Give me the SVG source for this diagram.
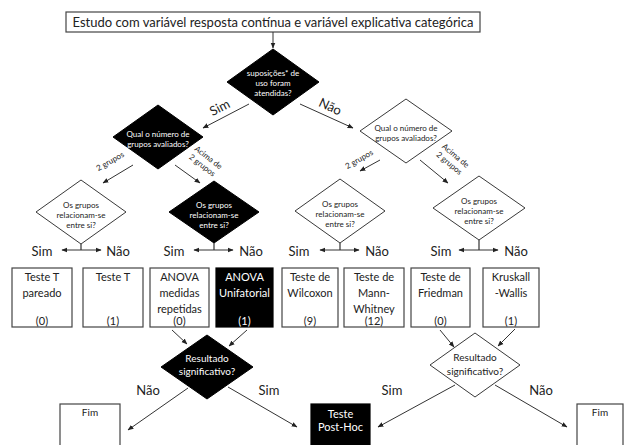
<svg xmlns="http://www.w3.org/2000/svg" width="626" height="445" viewBox="0 0 626 445">
<defs>
<marker id="ah" viewBox="0 0 10 10" refX="9" refY="5" markerWidth="6" markerHeight="6" orient="auto-start-reverse" markerUnits="userSpaceOnUse"><path d="M0,1 L10,5 L0,9 z" fill="#222"/></marker>
<style>
text{font-family:Lato,"Liberation Sans",sans-serif;fill:#222;text-anchor:middle}
.w{fill:#fff}
.dk{fill:#000;stroke:#000;stroke-width:1}
.dw{fill:#fff;stroke:#222;stroke-width:0.9}
.bx{fill:#fff;stroke:#444;stroke-width:1.2}
.bb{fill:#000;stroke:#000;stroke-width:1.2}
.ln{stroke:#333;stroke-width:1;fill:none;marker-end:url(#ah)}
.ln2{stroke:#333;stroke-width:1;fill:none;marker-end:url(#ah);marker-start:url(#ah)}
.st{stroke:#333;stroke-width:1.2;fill:none}
.dt{font-size:8px}
.lb{font-size:13px}
.bt{font-size:11px}
.rt{font-size:10px}
.gt{font-size:8px}
</style>
</defs>

<g id="title">
<rect x="66" y="12" width="414" height="20" class="bx"/>
<text x="273" y="26.5" font-size="13">Estudo com variável resposta contínua e variável explicativa categórica</text>
</g>

<g id="d1">
<polygon points="273,49 319,82 273,115 227,82" class="dk"/>
<text class="dt w" x="273" y="76">suposições* de</text>
<text class="dt w" x="273" y="86">uso foram</text>
<text class="dt w" x="273" y="96">atendidas?</text>
</g>

<g id="d2">
<polygon points="158,105 203,137 158,169 113,137" class="dk"/>
<text class="dt w" x="158" y="137">Qual o número de</text>
<text class="dt w" x="158" y="147">grupos avaliados?</text>
</g>

<g id="d3">
<polygon points="406,99 452,131 406,163 360,131" class="dw"/>
<text class="dt" x="406" y="131">Qual o número de</text>
<text class="dt" x="406" y="141">grupos avaliados?</text>
</g>

<g id="d4">
<polygon points="81,180 126,212 81,244 36,212" class="dw"/>
<text class="dt" x="81" y="208">Os grupos</text>
<text class="dt" x="81" y="218">relacionam-se</text>
<text class="dt" x="81" y="228">entre si?</text>
</g>

<g id="d5">
<polygon points="214,181 259,212 214,243 169,212" class="dk"/>
<text class="dt w" x="214" y="208">Os grupos</text>
<text class="dt w" x="214" y="218">relacionam-se</text>
<text class="dt w" x="214" y="228">entre si?</text>
</g>

<g id="d6">
<polygon points="340,179 385,211 340,243 295,211" class="dw"/>
<text class="dt" x="340" y="207">Os grupos</text>
<text class="dt" x="340" y="217">relacionam-se</text>
<text class="dt" x="340" y="227">entre si?</text>
</g>

<g id="d7">
<polygon points="479,176 525,208 479,240 433,208" class="dw"/>
<text class="dt" x="479" y="204">Os grupos</text>
<text class="dt" x="479" y="214">relacionam-se</text>
<text class="dt" x="479" y="224">entre si?</text>
</g>

<g id="b1"><rect x="12" y="268" width="60" height="59" class="bx"/>
<text class="bt" x="42" y="280.5">Teste T</text><text class="bt" x="42" y="297">pareado</text><text class="bt" x="42" y="325">(0)</text></g>
<g id="b2"><rect x="83" y="268" width="60" height="59" class="bx"/>
<text class="bt" x="113" y="280.5">Teste T</text><text class="bt" x="113" y="325">(1)</text></g>
<g id="b3"><rect x="150" y="268" width="59" height="59" class="bx"/>
<text class="bt" x="179.5" y="280.5">ANOVA</text><text class="bt" x="179.5" y="297">medidas</text><text class="bt" x="179.5" y="313">repetidas</text><text class="bt" x="179.5" y="325">(0)</text></g>
<g id="b4"><rect x="216" y="268" width="57" height="59" class="bb"/>
<text class="bt w" x="244.5" y="280.5">ANOVA</text><text class="bt w" x="244.5" y="297">Unifatorial</text><text class="bt w" x="244.5" y="325">(1)</text></g>
<g id="b5"><rect x="282" y="268" width="56" height="59" class="bx"/>
<text class="bt" x="310" y="280.5">Teste de</text><text class="bt" x="310" y="297">Wilcoxon</text><text class="bt" x="310" y="325">(9)</text></g>
<g id="b6"><rect x="344" y="268" width="60" height="59" class="bx"/>
<text class="bt" x="374" y="280.5">Teste de</text><text class="bt" x="374" y="297">Mann-</text><text class="bt" x="374" y="313">Whitney</text><text class="bt" x="374" y="325">(12)</text></g>
<g id="b7"><rect x="411" y="268" width="59" height="59" class="bx"/>
<text class="bt" x="440.5" y="280.5">Teste de</text><text class="bt" x="440.5" y="297">Friedman</text><text class="bt" x="440.5" y="325">(0)</text></g>
<g id="b8"><rect x="483" y="268" width="56" height="59" class="bx"/>
<text class="bt" x="511" y="280.5">Kruskall</text><text class="bt" x="511" y="297">-Wallis</text><text class="bt" x="511" y="325">(1)</text></g>

<g id="d8">
<polygon points="207,335 253,367 207,399 161,367" class="dk"/>
<text class="rt w" x="207" y="362">Resultado</text>
<text class="rt w" x="207" y="375">significativo?</text>
</g>

<g id="d9">
<polygon points="475,333 520,365 475,397 430,365" class="dw"/>
<text class="rt" x="475" y="361">Resultado</text>
<text class="rt" x="475" y="375">significativo?</text>
</g>

<g id="fim1"><rect x="60" y="404" width="60" height="50" class="bx"/>
<text class="rt" x="90" y="416">Fim</text></g>
<g id="posthoc"><rect x="311" y="404" width="59" height="50" class="bb"/>
<text class="bt w" x="340.5" y="418">Teste</text><text class="bt w" x="340.5" y="431">Post-Hoc</text></g>
<g id="fim2"><rect x="577" y="404" width="46" height="50" class="bx"/>
<text class="rt" x="600" y="416">Fim</text></g>

<g id="connectors">
<line x1="273" y1="32" x2="273" y2="48" class="ln"/>
<line x1="249" y1="104" x2="203" y2="128" class="ln"/>
<line x1="300" y1="104" x2="353" y2="128" class="ln"/>
<line x1="133" y1="165" x2="103" y2="183" class="ln"/>
<line x1="175" y1="165" x2="200" y2="183" class="ln"/>
<line x1="380" y1="160" x2="360" y2="171" class="ln"/>
<line x1="420" y1="160" x2="448" y2="183" class="ln"/>
<path d="M81,244 V250 M214,243 V250 M340,243 V250 M479,240 V250" class="st"/>
<line x1="62" y1="250" x2="101" y2="250" class="ln2"/>
<line x1="194" y1="250" x2="233" y2="250" class="ln2"/>
<line x1="320" y1="250" x2="359" y2="250" class="ln2"/>
<line x1="459" y1="250" x2="498" y2="250" class="ln2"/>
<line x1="172" y1="330" x2="187" y2="344" class="ln"/>
<line x1="247" y1="330" x2="229" y2="346" class="ln"/>
<line x1="440" y1="330" x2="454" y2="347" class="ln"/>
<line x1="515" y1="329" x2="498" y2="346" class="ln"/>
<line x1="188" y1="388" x2="128" y2="430" class="ln"/>
<line x1="228" y1="387" x2="297" y2="427" class="ln"/>
<line x1="455" y1="385" x2="378" y2="427" class="ln"/>
<line x1="495" y1="385" x2="567" y2="427" class="ln"/>
</g>

<g id="labels">
<text class="lb" x="220" y="112" transform="rotate(-27 220 108)">Sim</text>
<text class="lb" x="330" y="111" transform="rotate(25 330 107)">Não</text>
<text class="gt" x="110" y="164" transform="rotate(-30 110 161)">2 grupos</text>
<g transform="translate(205,162) rotate(38)"><text class="gt" x="0" y="-3">Acima de</text><text class="gt" x="0" y="7">2 grupos</text></g>
<text class="gt" x="359" y="162" transform="rotate(-30 359 159)">2 grupos</text>
<g transform="translate(452,160) rotate(40)"><text class="gt" x="0" y="-3">Acima de</text><text class="gt" x="0" y="7">2 grupos</text></g>
<text class="lb" x="42" y="256">Sim</text><text class="lb" x="118" y="256">Não</text>
<text class="lb" x="174" y="256">Sim</text><text class="lb" x="251" y="256">Não</text>
<text class="lb" x="299" y="256">Sim</text><text class="lb" x="377" y="256">Não</text>
<text class="lb" x="441" y="256">Sim</text><text class="lb" x="516" y="256">Não</text>
<text class="lb" x="148" y="395">Não</text>
<text class="lb" x="269" y="395">Sim</text>
<text class="lb" x="392" y="395">Sim</text>
<text class="lb" x="541" y="395">Não</text>
</g>
</svg>
